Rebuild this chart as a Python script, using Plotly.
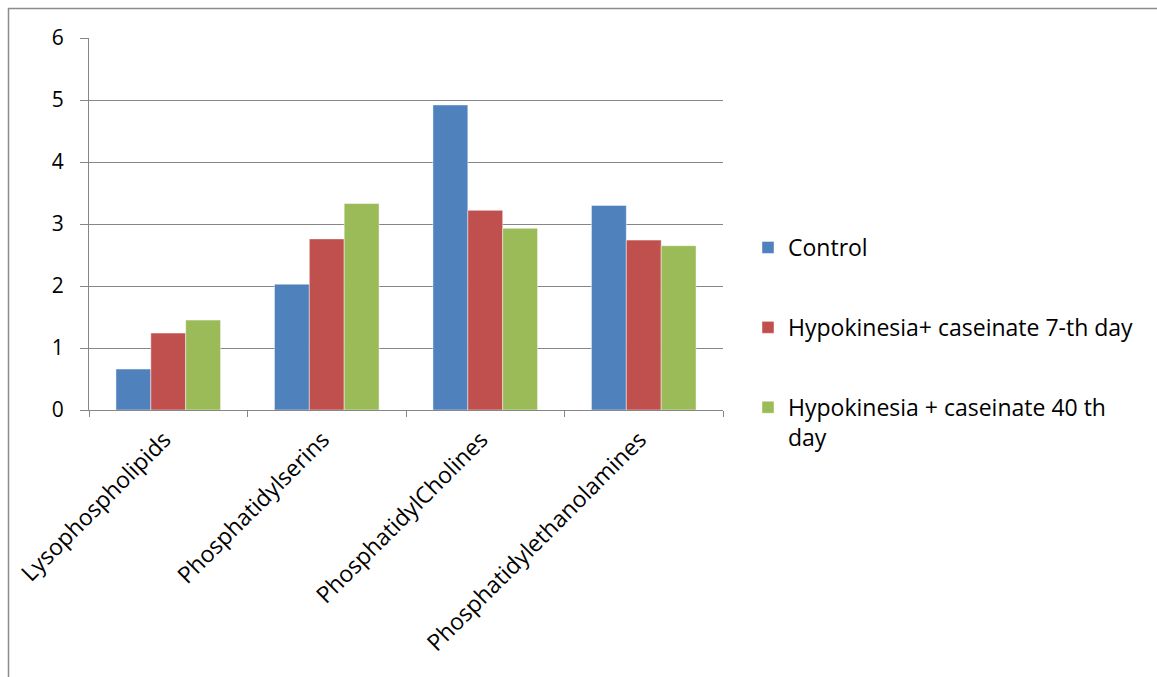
import plotly.graph_objects as go

# Phospholipid fractions by group
categories = ["Lysophospholipids", "Phosphatidylserins", "PhosphatidylCholines", "Phosphatidylethanolamines"]
control = [0.66, 2.03, 4.92, 3.30]
hypo_7 = [1.24, 2.76, 3.22, 2.74]
hypo_40 = [1.45, 3.33, 2.93, 2.65]
series_names = ["Control", "Hypokinesia+ caseinate 7-th day", "Hypokinesia + caseinate 40 th<br>day"]
colors = ["#4F81BD", "#C0504D", "#9BBB59"]
y_ticks = [0, 1, 2, 3, 4, 5, 6]

FONT = "Open Sans"
GRID = "#868686"

fig = go.Figure()
for i, (name, vals, col) in enumerate(zip(series_names, [control, hypo_7, hypo_40], colors)):
    fig.add_trace(go.Bar(
        x=categories, y=vals, name=name,
        marker=dict(color=col, line=dict(color="rgba(255,255,255,0.45)", width=1)),
        legendgroup=f"g{i}",
    ))

W, H = 1157, 677
L, R, T, B = 89, 723, 38, 410
pw, ph = R - L, B - T

def px_x(p):
    return (p - L) / pw

def px_y(p):
    return (B - p) / ph

fig.update_layout(
    width=W, height=H,
    margin=dict(l=L, r=W - R, t=T, b=H - B, pad=0),
    paper_bgcolor="white", plot_bgcolor="white",
    barmode="group", bargap=0.34, bargroupgap=0,
    font=dict(family=FONT, size=21, color="black"),
    showlegend=True,
    legend=dict(
        x=px_x(748), y=px_y(226), xanchor="left", yanchor="top",
        traceorder="grouped", tracegroupgap=47, valign="top",
        font=dict(family=FONT, size=23, color="black"),
        bgcolor="rgba(0,0,0,0)", itemwidth=30,
    ),
    xaxis=dict(
        type="category", showgrid=False, showline=True, linecolor=GRID, linewidth=1.2,
        ticks="outside", tickson="boundaries", ticklen=6, tickcolor=GRID, tickwidth=1.2,
        tickangle=-45, tickfont=dict(family=FONT, size=23),
        ticklabelshift=-4, ticklabelstandoff=6,
    ),
    yaxis=dict(
        range=[0, 6], tickvals=y_ticks, showgrid=True, gridcolor=GRID, gridwidth=1.2,
        showline=True, linecolor=GRID, linewidth=1.2, zeroline=False,
        ticks="outside", ticklen=8, tickcolor=GRID, tickwidth=1.2,
        tickfont=dict(family=FONT, size=21), ticklabelstandoff=12,
    ),
    shapes=[
        # chart frame
        dict(type="rect", xref="paper", yref="paper",
             x0=px_x(8.5), x1=px_x(1200), y0=px_y(720), y1=px_y(8.5),
             line=dict(color="#8C8C8C", width=1.5), fillcolor="rgba(0,0,0,0)", layer="below"),
    ],
)

fig.write_html("out.html")
